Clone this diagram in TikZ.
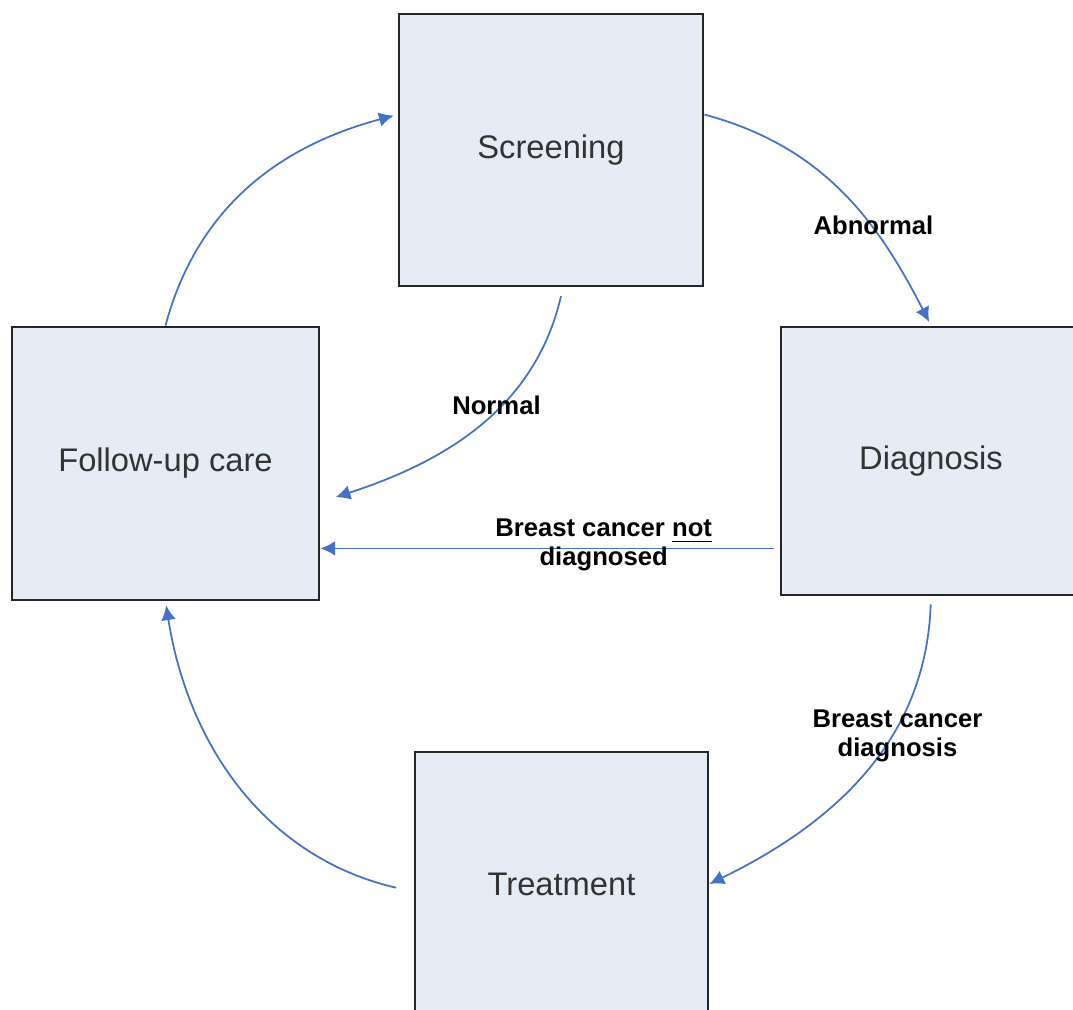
\documentclass[tikz,border=0pt]{standalone}
\usepackage{fontspec}
\setmainfont{Liberation Sans}
\usetikzlibrary{arrows.meta,positioning}
\definecolor{boxfill}{RGB}{230,236,246}
\definecolor{arrowblue}{RGB}{68,114,196}

\begin{document}
\begin{tikzpicture}[
            mybox/.style={
            rectangle,
            draw=black!85,
            fill=boxfill,
            line width=0.8pt,
            text=black!80,
            inner sep=2pt,
            font=\fontsize{9.3}{11}\selectfont},
        myarrow/.style={-{Latex[length=4.2pt,width=4.2pt]},draw=arrowblue,line width=0.5pt},
        mylabel/.style={font=\bfseries\fontsize{7.3}{8.4}\selectfont,align=center}
        ]
        \useasboundingbox (0,0) rectangle (10.73,10.10);
        \clip (0,0) rectangle (10.73,10.10);
        \node[mybox,minimum width=3.04cm,minimum height=2.72cm] (scr) at (5.51,8.60) {Screening};
        \node[mybox,minimum width=3.07cm,minimum height=2.73cm] (fu) at (1.655,5.465) {Follow-up care};
        \node[mybox,minimum width=3.00cm,minimum height=2.68cm] (diag) at (9.31,5.49) {Diagnosis};
        \node[mybox,minimum width=2.93cm,minimum height=2.64cm] (treat) at (5.615,1.26) {Treatment};
    
        \foreach \i/\j/\o/\n/\sa/\sb/\txt/\ps/\dx/\dy in {% start/end/out/in/gap start/gap end/text/label pos/label shift
            fu.north/scr.167/75/195/0/0.04/{}/0.5/0/0,
            scr.13/diag.north/-15/117/0/0.04/{Abnormal}/0.62/2.4/-2,
            scr.275/fu.-14/-103/18/0.09/0.16/{Normal}/0.4/-1/0,
            diag.south/treat.east/-92/26/0.08/0/{Breast cancer\\diagnosis}/0.4/2.8/1.5,
            treat.183/fu.south/167/-81/0.18/0.04/{}/0.5/0/0}
            \draw [myarrow,shorten <=\sa cm,shorten >=\sb cm] (\i) to[out=\o,in=\n]
                node[mylabel,pos=\ps,xshift=\dx pt,yshift=\dy pt] {\txt} (\j);
    
        \draw [myarrow,shorten <=0.06cm] (diag.210) -- node[mylabel,pos=0.377,xshift=-0.8pt,yshift=1pt] {Breast cancer \underline{not}\\diagnosed} (diag.210 -| fu.east);
        \end{tikzpicture}
\end{document}
